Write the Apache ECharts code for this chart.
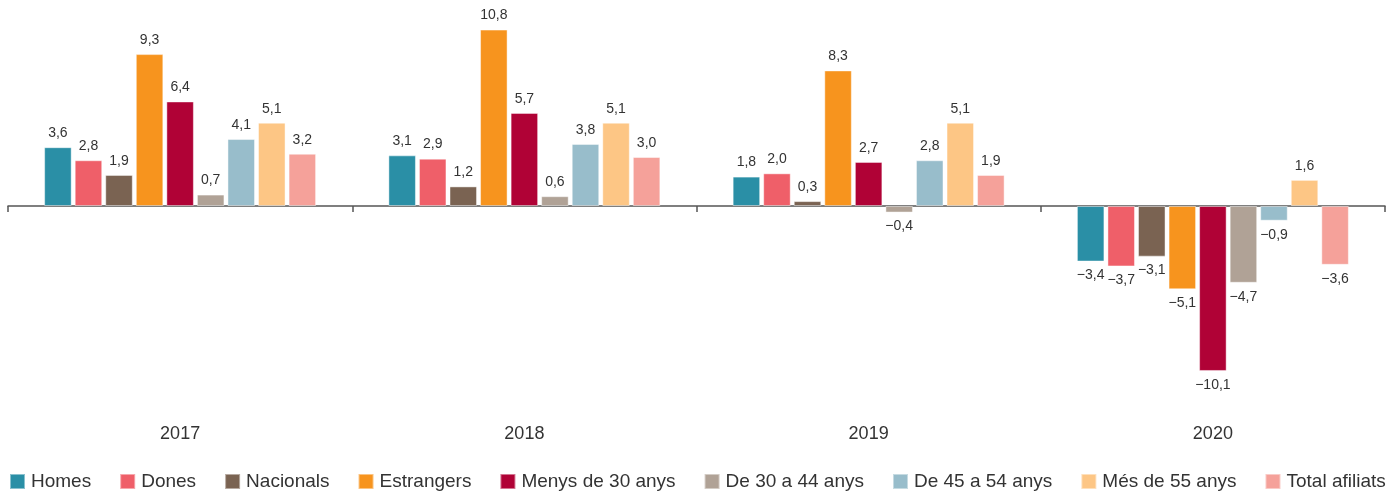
<!DOCTYPE html>
<html>
<head>
<meta charset="utf-8">
<script src="https://cdn.jsdelivr.net/npm/echarts@6/dist/echarts.min.js"></script>
<style>
  html, body { margin: 0; padding: 0; background: #fff; }
  #chart { width: 1396px; height: 495px; }
</style>
</head>
<body>
<div id="chart"></div>
<script>
const years = ['2017', '2018', '2019', '2020'];
const seriesNames = ['Homes', 'Dones', 'Nacionals', 'Estrangers', 'Menys de 30 anys',
  'De 30 a 44 anys', 'De 45 a 54 anys', 'Més de 55 anys', 'Total afiliats'];
const homes = [3.6, 3.1, 1.8, -3.4];
const dones = [2.8, 2.9, 2.0, -3.7];
const nacionals = [1.9, 1.2, 0.3, -3.1];
const estrangers = [9.3, 10.8, 8.3, -5.1];
const menys30 = [6.4, 5.7, 2.7, -10.1];
const de30a44 = [0.7, 0.6, -0.4, -4.7];
const de45a54 = [4.1, 3.8, 2.8, -0.9];
const mes55 = [5.1, 5.1, 5.1, 1.6];
const totalAfiliats = [3.2, 3.0, 1.9, -3.6];

const seriesValues = [homes, dones, nacionals, estrangers, menys30, de30a44, de45a54, mes55, totalAfiliats];
const colors = ['#2a8fa6', '#ef5f69', '#7a6352', '#f7941e', '#b00236', '#b0a296', '#98bdcb', '#fdc685', '#f5a19a'];

const fmt = v => v.toFixed(1).replace('.', ',').replace('-', '\u2212');

const chart = echarts.init(document.getElementById('chart'));
chart.setOption({
  animation: false,
  color: colors,
  textStyle: { fontFamily: 'Liberation Sans, Arial, sans-serif' },
  legend: {
    left: 9,
    top: 472,
    width: 1387,
    padding: 0,
    itemWidth: 15,
    itemHeight: 15,
    itemGap: 28,
    icon: 'rect',
    textStyle: { fontSize: 19, color: '#333', padding: [0, 0, 0, 1] },
    data: seriesNames
  },
  grid: { left: 8, right: 11, top: 10, height: 392 },
  xAxis: [
    {
      type: 'category',
      data: years,
      axisLine: { onZero: true, lineStyle: { color: '#555', width: 1.5 } },
      axisTick: { show: true, length: 6, lineStyle: { color: '#555', width: 1.5 } },
      axisLabel: { show: false }
    },
    {
      type: 'category',
      data: years,
      position: 'bottom',
      axisLine: { show: false, onZero: false },
      axisTick: { show: false },
      axisLabel: { show: true, color: '#333', fontSize: 18, margin: 23 }
    }
  ],
  yAxis: {
    type: 'value',
    min: -12,
    max: 12,
    show: false,
    splitLine: { show: false }
  },
  series: seriesNames.map((name, i) => ({
    name: name,
    type: 'bar',
    barGap: '11%',
    barCategoryGap: '21%',
    itemStyle: { borderColor: 'rgba(255,255,255,0.45)', borderWidth: 1 },
    label: {
      show: true,
      fontSize: 14,
      color: '#333',
      distance: 7,
      formatter: p => fmt(p.value)
    },
    data: seriesValues[i].map(v => ({
      value: v,
      label: { position: v < 0 ? 'bottom' : 'top' }
    }))
  }))
});
</script>
</body>
</html>
